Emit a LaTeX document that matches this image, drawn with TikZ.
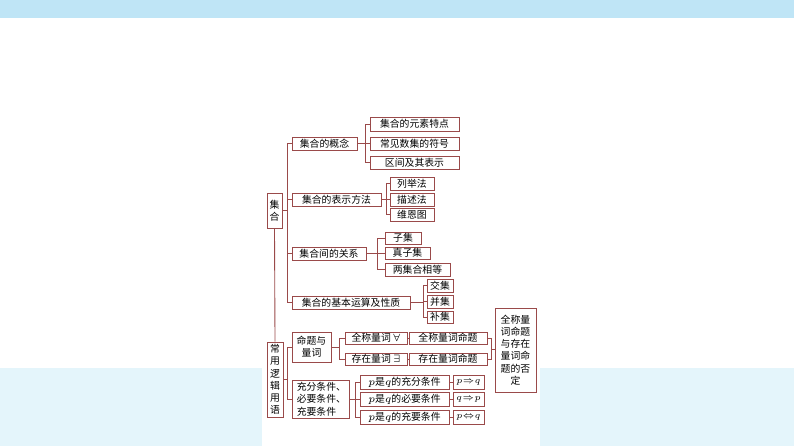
\documentclass[tikz,border=0pt]{standalone}
\usepackage{fontspec}
\setmainfont{Noto Sans CJK SC}
\usetikzlibrary{calc}
\definecolor{boxred}{HTML}{9A4A4A}
\definecolor{bandblue}{HTML}{BFE5F6}
\definecolor{bandpale}{HTML}{E4F5FB}
\tikzset{
  box/.style={draw=boxred,line width=0.5pt,inner sep=0pt,font=\fontsize{5.6}{7}\selectfont,align=center},
  link/.style={draw=boxred,line width=0.5pt}
}
% box from pixel corners
\newcommand\bx[6]{\node[box,minimum width={(#4-#2)*0.02cm},minimum height={(#5-#3)*0.02cm}] (#1) at ({(#2+#4)/2},{(#3+#5)/2}) {#6};}
% bracket: parent, spine x, list of children
\newcommand\brk[3]{%
  \coordinate (sp) at (#2,0);
  \draw[link] (#1.east) -- (sp |- #1.east);
  \foreach \c in {#3} {\draw[link] (sp |- #1.east) |- (\c.west);}}
\begin{document}
\begin{tikzpicture}[x=0.02cm,y=-0.02cm]
  \useasboundingbox (0,0) rectangle (794,446);
  \fill[bandblue] (0,0) rectangle (794,18);
  \fill[bandpale] (0,368) rectangle (794,446);
  \fill[white] (262,300) rectangle (540,446);

  \bx{jh}{267}{193}{282}{228}{集\\合}
  \bx{gn}{292}{137}{357}{150}{集合的概念}
  \bx{gn1}{370}{117}{459}{131}{集合的元素特点}
  \bx{gn2}{370}{137}{459}{150}{常见数集的符号}
  \bx{gn3}{370}{156}{459}{169}{区间及其表示}
  \bx{bs}{292}{193}{381}{206}{集合的表示方法}
  \bx{bs1}{390}{177}{434}{190}{列举法}
  \bx{bs2}{390}{193}{434}{206}{描述法}
  \bx{bs3}{390}{208}{434}{221}{维恩图}
  \bx{gx}{292}{247}{366}{260}{集合间的关系}
  \bx{gx1}{385}{232}{421}{244}{子集}
  \bx{gx2}{385}{247}{430}{259}{真子集}
  \bx{gx3}{385}{263}{450}{276}{两集合相等}
  \bx{ys}{292}{296}{410}{309}{集合的基本运算及性质}
  \bx{ys1}{427}{279}{453}{292}{交集}
  \bx{ys2}{427}{295}{453}{308}{并集}
  \bx{ys3}{427}{311}{453}{323}{补集}

  \bx{lj}{267}{342}{283}{417}{常\\用\\逻\\辑\\用\\语}
  \bx{mt}{292}{332}{331}{362}{命题与\\量词}
  \bx{qc}{345}{332}{407}{344}{全称量词 $\forall$}
  \bx{cz}{345}{353}{407}{365}{存在量词 $\exists$}
  \bx{qcm}{409}{332}{487}{344}{全称量词命题}
  \bx{czm}{409}{353}{487}{365}{存在量词命题}
  \bx{fd}{495}{308}{536}{392}{全称量\\词命题\\与存在\\量词命\\题的否\\定}
  \bx{tj}{292}{380}{349}{418}{\parbox{0.95cm}{充分条件、\\必要条件、\\充要条件}}
  \bx{tj1}{360}{375}{449}{389}{$p$是$q$的充分条件}
  \bx{tj2}{360}{392}{449}{406}{$p$是$q$的必要条件}
  \bx{tj3}{360}{410}{449}{424}{$p$是$q$的充要条件}
  \bx{sy1}{453}{375}{484}{389}{$\scriptscriptstyle p\Rightarrow q$}
  \bx{sy2}{453}{392}{484}{406}{$\scriptscriptstyle q\Rightarrow p$}
  \bx{sy3}{453}{410}{484}{424}{$\scriptscriptstyle p\Leftrightarrow q$}

  % trunk lines
  \draw[link] (jh.south) -- (lj.north);
  \draw[link] (jh.east) -- (287,0 |- jh.east);
  \draw[link] (287,143) -- (287,303);
  \foreach \c in {gn,bs,gx,ys} {\draw[link] (287,0 |- \c.west) -- (\c.west);}
  \draw[link] (lj.east) -- (287,0 |- lj.east);
  \draw[link] (287,347) -- (287,399);
  \foreach \c in {mt,tj} {\draw[link] (287,0 |- \c.west) -- (\c.west);}

  \brk{gn}{365}{gn1,gn2,gn3}
  \brk{bs}{386}{bs1,bs2,bs3}
  \brk{gx}{377}{gx1,gx2,gx3}
  \brk{ys}{423}{ys1,ys2,ys3}
  \brk{mt}{339}{qc,cz}
  \brk{tj}{355}{tj1,tj2,tj3}
  \draw[link] (qc) -- (qcm);
  \draw[link] (cz) -- (czm);
  \foreach \i in {1,2,3} {\draw[link] (tj\i) -- (sy\i);}
  \draw[link] (qcm.east) -- (491,0 |- qcm.east) -- (491,0 |- czm.east) -- (czm.east);
  \draw[link] (491,349) -- (fd.west |- 0,349);
\end{tikzpicture}
\end{document}
